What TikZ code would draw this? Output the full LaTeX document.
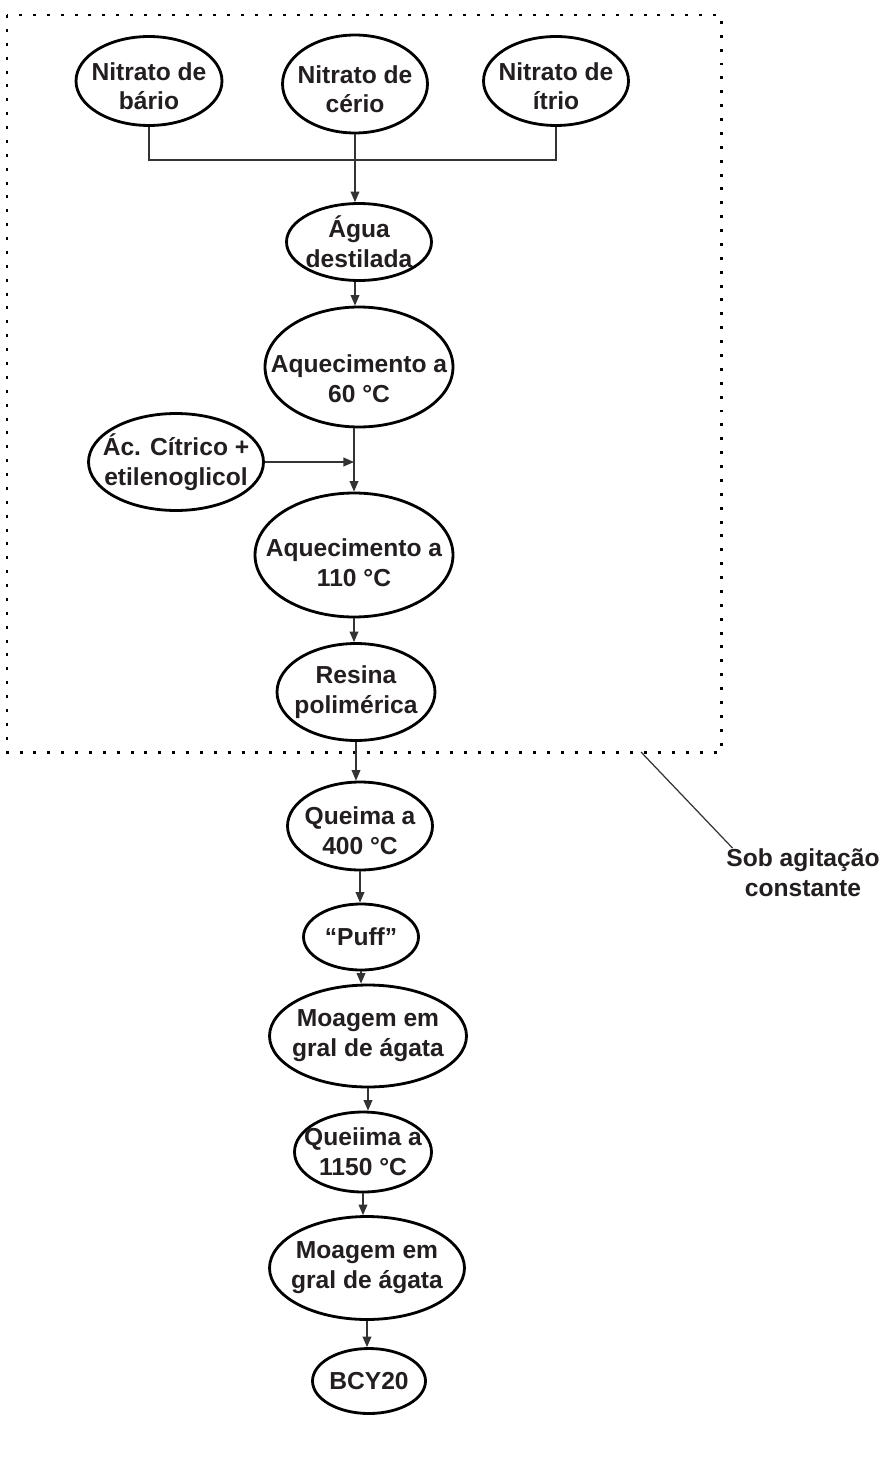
\documentclass[tikz,border=0pt]{standalone}
\usepackage{fontspec}
\setmainfont{Liberation Sans}
\usetikzlibrary{shapes.geometric,arrows.meta}
\definecolor{tinta}{HTML}{231F20}
\tikzset{
  etapa/.style={ellipse,draw=black,fill=white,line width=1.6pt,inner xsep=-3cm,inner ysep=-3cm,
    align=center,text=tinta,font=\bfseries\fontsize{14}{17}\selectfont},
  desce/.style={text height=#1,text depth=0pt},
  seta/.style={draw=black!80,line width=0.7pt,-{Triangle[length=6pt,width=5pt]}},
  liga/.style={draw=black!80,line width=0.7pt}
}

\begin{document}
\begin{tikzpicture}[x=0.02cm,y=-0.02cm]
\useasboundingbox (0,0) rectangle (886,1483);
\draw[line width=1.7pt,dash pattern=on 1.7pt off 6.2pt] (7,15) rectangle (721,752);

\node[etapa,desce=33pt,minimum width=2.92cm,minimum height=1.78cm] (bario) at (149,81) {Nitrato de\\bário};
\node[etapa,desce=33pt,minimum width=2.9cm,minimum height=1.96cm] (cerio) at (355,84) {Nitrato de\\cério};
\node[etapa,desce=33pt,minimum width=2.9cm,minimum height=1.78cm] (itrio) at (556,81) {Nitrato de\\ítrio};
\node[etapa,minimum width=2.9cm,minimum height=1.54cm] (agua) at (359,242) {Água\\destilada};
\node[etapa,desce=40pt,minimum width=3.76cm,minimum height=2.4cm] (aq60) at (359,367) {Aquecimento a\\60 °C};
\node[etapa,minimum width=3.5cm,minimum height=1.94cm] (acido) at (176,462) {Ác. Cítrico +\\etilenoglicol};
\node[etapa,desce=36pt,minimum width=3.96cm,minimum height=2.48cm] (aq110) at (354,555) {Aquecimento a\\110 °C};
\node[etapa,minimum width=3.16cm,minimum height=1.94cm] (resina) at (356,692) {Resina\\polimérica};
\node[etapa,desce=32pt,minimum width=2.9cm,minimum height=1.76cm] (queima) at (360,826) {Queima a\\400 °C};
\node[etapa,minimum width=2.3cm,minimum height=1.32cm] (puff) at (361,937) {“Puff”};
\node[etapa,minimum width=3.94cm,minimum height=2.04cm] (moagem) at (368,1036) {Moagem em\\gral de ágata};
\node[etapa,minimum width=2.74cm,minimum height=1.6cm] (queiima) at (363,1152) {Queiima a\\1150 °C};
\node[etapa,minimum width=3.9cm,minimum height=2.06cm] (moagemb) at (367,1268) {Moagem em\\gral de ágata};
\node[etapa,minimum width=2.26cm,minimum height=1.3cm] (bcy) at (369,1381) {BCY20};
\node[align=center,text=tinta,font=\bfseries\fontsize{14}{17}\selectfont] (sob) at (803,873) {Sob agitação\\constante};

\coordinate (junta) at (355,160);
\coordinate (borda) at (641,752);
\draw[liga] (bario.south) |- (junta) -| (itrio.south);
\draw[seta] (cerio.south) -- (cerio.south |- agua.north);
\draw[seta] (agua.south -| cerio.south) -- (aq60.north -| cerio.south);
\draw[seta] (aq60.south) ++(-5,0) coordinate (eixo) -- (eixo |- aq110.north);
\draw[seta] (acido.east) -- (acido.east -| eixo);
\draw[seta] (aq110.south) -- (aq110.south |- resina.north);
\draw[seta] (resina.south) -- (resina.south |- queima.north);
\draw[seta] (queima.south) -- (queima.south |- puff.north);
\draw[seta] (puff.south) -- (puff.south |- moagem.north);
\draw[seta] (moagem.south) -- (moagem.south |- queiima.north);
\draw[seta] (queiima.south) -- (queiima.south |- moagemb.north);
\draw[seta] (moagemb.south) -- (moagemb.south |- bcy.north);
\draw[liga] (borda) -- ([xshift=7pt,yshift=-3pt]sob.north west);
\end{tikzpicture}
\end{document}
